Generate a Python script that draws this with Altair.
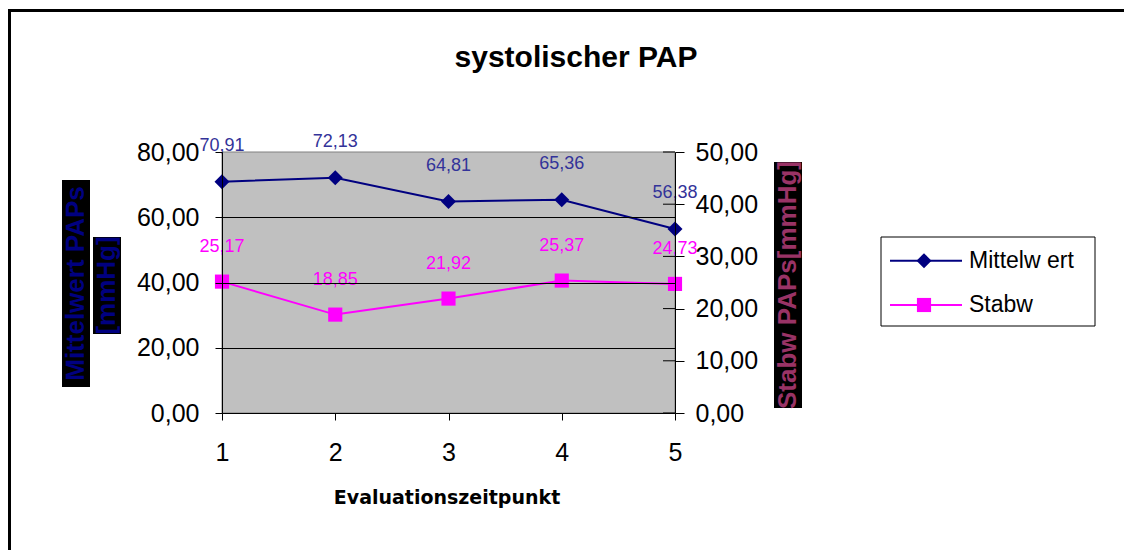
import altair as alt
import pandas as pd

# ---- data ----
zeitpunkt = [1, 2, 3, 4, 5]
mittelwert = [70.91, 72.13, 64.81, 65.36, 56.38]
stabw = [25.17, 18.85, 21.92, 25.37, 24.73]
left_ticks = [0, 20, 40, 60, 80]
right_ticks = [0, 10, 20, 30, 40, 50]
series_names = ["Mittelw ert", "Stabw"]
title_text = "systolischer PAP"
x_title = "Evaluationszeitpunkt"
left_title = ["Mittelwert PAPs", "[mmHg]"]
right_title = "Stabw PAPs[mmHg]"

df = pd.DataFrame({"t": zeitpunkt, "m": mittelwert, "s": stabw})
one = pd.DataFrame({"k": [0]})
rticks = pd.DataFrame({"v": right_ticks})

FONT = "Liberation Sans, Arial, Helvetica, sans-serif"
NAVY = "#000080"
MAG = "#FF00FF"
LBL = "replace(format(datum.value, '.2f'), '.', ',')"

x_enc = alt.X(
    "t:Q",
    scale=alt.Scale(domain=[1, 5], nice=False, zero=False),
    axis=alt.Axis(values=zeitpunkt, format="d", title=None, grid=False,
                  tickSize=7, tickColor="black", domainColor="black",
                  labelFontSize=25, labelFont=FONT, labelColor="black",
                  labelPadding=20, labelFlush=False, zindex=1),
)

yL = alt.Y(
    "m:Q",
    scale=alt.Scale(domain=[0, 80], nice=False, zero=True),
    axis=alt.Axis(values=left_ticks, orient="left", title=None, labelExpr=LBL,
                  tickSize=7, tickColor="black", domainColor="black",
                  labelFontSize=25, labelFont=FONT, labelColor="black",
                  labelPadding=16, labelFlush=False, grid=True,
                  gridColor="black", gridWidth=1, zindex=1,
                  gridOpacity={"condition": {"test": "datum.value >= 80 || datum.value <= 0", "value": 0}, "value": 1}),
)

r_axis = alt.Axis(values=right_ticks, orient="right", title=None, labelExpr=LBL,
                  tickSize=9, tickColor="black", domainColor="black",
                  labelFontSize=25, labelFont=FONT, labelColor="black",
                  labelPadding=11, labelFlush=False, grid=False, zindex=1)
r_scale = alt.Scale(domain=[0, 50], nice=False, zero=True)
yR = alt.Y("s:Q", scale=r_scale, axis=r_axis)

base = alt.Chart(df)

left_layer = alt.layer(
    base.mark_line(color=NAVY, strokeWidth=2).encode(x=x_enc, y=yL),
    base.mark_point(shape="diamond", filled=True, size=225, color=NAVY, opacity=1).encode(x=x_enc, y=yL),
    base.transform_calculate(lab="replace(format(datum.m, '.2f'), '.', ',')")
        .mark_text(dy=-36, fontSize=18, font=FONT, color="#333399", align="center", baseline="middle")
        .encode(x=x_enc, y=yL, text="lab:N"),
)

right_layer = alt.layer(
    base.mark_line(color=MAG, strokeWidth=2).encode(x=x_enc, y=yR),
    base.mark_point(shape="square", filled=True, size=200, color=MAG, opacity=1).encode(x=x_enc, y=yR),
    base.transform_calculate(lab="replace(format(datum.s, '.2f'), '.', ',')")
        .mark_text(dy=-35, fontSize=18, font=FONT, color=MAG, align="center", baseline="middle")
        .encode(x=x_enc, y=yR, text="lab:N"),
    alt.Chart(rticks).mark_rule(color="black", strokeWidth=1).encode(
        x=alt.value(441), x2=alt.value(453),
        y=alt.Y("v:Q", scale=r_scale, axis=r_axis)),
)

oc = alt.Chart(one)

def box(x1, x2, y1, y2, **kw):
    return oc.mark_rect(**kw).encode(x=alt.value(x1), x2=alt.value(x2), y=alt.value(y1), y2=alt.value(y2))

def txt(text, x, y, **kw):
    return oc.mark_text(text=text, **kw).encode(x=alt.value(x), y=alt.value(y))

deco = alt.layer(
    # outer border (only top and left edges fall inside the picture)
    oc.mark_rule(color="black", strokeWidth=3).encode(
        x=alt.value(-214), x2=alt.value(1000), y=alt.value(-141.5)),
    oc.mark_rule(color="black", strokeWidth=3).encode(
        x=alt.value(-212.5), y=alt.value(-143), y2=alt.value(500)),
    # plot area background
    box(0, 453, 0, 261, fill="#C0C0C0", stroke="#808080", strokeWidth=1),
    # title
    txt(title_text, 354, -85.5, fontSize=30, fontWeight="bold", font=FONT, color="black",
        align="center", baseline="alphabetic"),
    # x axis title
    txt(x_title, 225, 352, fontSize=19, fontWeight="bold", font="DejaVu Sans, " + FONT, color="black",
        align="center", baseline="alphabetic"),
    # left axis title boxes
    box(-160, -132, 28, 235, color="black"),
    box(-129, -101, 85, 182, color="black"),
    txt(left_title[0], -146, 131.5, angle=270, fontSize=26, fontWeight="bold", font=FONT,
        color=NAVY, align="center", baseline="middle"),
    txt(left_title[1], -115, 133.5, angle=270, fontSize=26, fontWeight="bold", font=FONT,
        color=NAVY, align="center", baseline="middle"),
    # right axis title
    box(552, 580, 10, 256, color="black"),
    txt(right_title, 566, 133, angle=270, fontSize=26, fontWeight="bold", font=FONT,
        color="#993366", align="center", baseline="middle"),
    # legend
    box(659, 873, 85, 174, fill="white", stroke="black", strokeWidth=1),
    oc.mark_rule(color=NAVY, strokeWidth=2).encode(x=alt.value(668), x2=alt.value(740), y=alt.value(108.7)),
    oc.mark_point(shape="diamond", filled=True, size=225, color=NAVY, opacity=1).encode(
        x=alt.value(702), y=alt.value(108.7)),
    txt(series_names[0], 747, 108.5, fontSize=23, font=FONT, color="black", align="left", baseline="middle"),
    oc.mark_rule(color=MAG, strokeWidth=2).encode(x=alt.value(668), x2=alt.value(740), y=alt.value(153)),
    oc.mark_point(shape="square", filled=True, size=200, color=MAG, opacity=1).encode(
        x=alt.value(702), y=alt.value(153)),
    txt(series_names[1], 747, 153, fontSize=23, font=FONT, color="black", align="left", baseline="middle"),
)

chart = alt.layer(deco, left_layer, right_layer).resolve_scale(y="independent").properties(
    width=453, height=261,
    autosize=alt.AutoSizeParams(type="none"),
    padding={"left": 214, "top": 144, "right": 449, "bottom": 137},
).configure_view(
    stroke=None
).configure(background="white")

chart.save("out.html", embed_options={"renderer": "svg", "actions": False})
